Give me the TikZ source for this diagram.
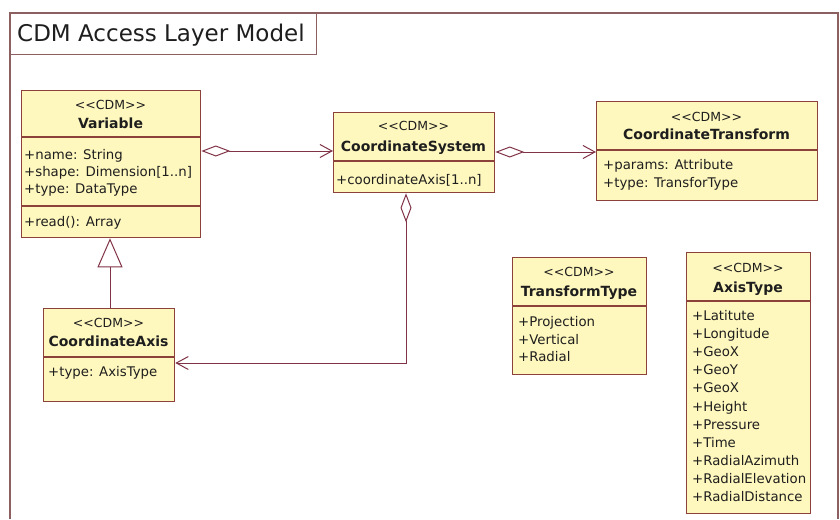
\documentclass[tikz,border=0pt]{standalone}
\usepackage{fontspec}
\setmainfont{DejaVu Sans}[Ligatures=TeXOff]
\usetikzlibrary{arrows.meta}
\definecolor{boxfill}{RGB}{255,248,190}
\definecolor{boxline}{RGB}{140,66,58}
\definecolor{frameline}{RGB}{140,96,96}
\definecolor{connline}{RGB}{128,50,70}
\definecolor{txtcol}{RGB}{30,30,30}
\tikzset{
  cls/.style={draw=boxline, fill=boxfill, line width=1.3pt, anchor=north west, inner sep=0pt},
  sepline/.style={draw=boxline, line width=1.3pt},
  lst/.style={inner sep=0pt, text=txtcol, font=\fontsize{13.3}{17}\selectfont, align=left, anchor=base west},
  ster/.style={inner sep=0pt, text=txtcol, font=\fontsize{12.5}{14}\selectfont, anchor=base},
  cname/.style={inner sep=0pt, text=txtcol, font=\fontsize{14}{16}\selectfont\bfseries, anchor=base},
  conn/.style={draw=connline, line width=1pt},
  agg/.style={conn, {Diamond[open,length=29pt,width=11pt]}-{Straight Barb[length=12pt,width=13pt]}},
  gen/.style={conn, -{Triangle[open,length=29pt,width=25pt]}},
}
\begin{document}
\begin{tikzpicture}[x=1pt,y=-1pt]
\useasboundingbox (0,0) rectangle (840,519);
% frame
\coordinate (fbl) at (10,519);
\coordinate (ftl) at (10,13);
\coordinate (ftr) at (838,13);
\coordinate (fbr) at (838,519);
\draw[frameline, line width=1.3pt] (fbl) -- (ftl) -- (ftr) -- (fbr);
\node[draw=frameline, line width=1.3pt, anchor=north west, minimum width=306pt, minimum height=41pt, inner sep=0pt] (titlebox) at (10,13) {};
\node[inner sep=0pt, text=txtcol, anchor=base west, font=\fontsize{23}{26}\selectfont] (title) at (17,42) {CDM Access Layer Model};

% Variable
\node[cls, minimum width=179pt, minimum height=147pt] (var) at (21,90) {};
\draw[sepline] (21,137) -- (200,137);
\draw[sepline] (21,206) -- (200,206);
\node[ster] (varS) at (110.5,109.5) {<<CDM>>};
\node[cname] (varN) at (110.5,128) {Variable};
\node[lst] (varA) at (24,193.5) {+name: String\\+shape: Dimension[1..n]\\+type: DataType};
\node[lst] (varO) at (24,226.5) {+read(): Array};

% CoordinateSystem
\node[cls, minimum width=161pt, minimum height=80pt] (cs) at (333,112) {};
\draw[sepline] (333,161) -- (494,161);
\node[ster] (csS) at (413.5,130.5) {<<CDM>>};
\node[cname] (csN) at (413.5,151) {CoordinateSystem};
\node[lst] (csA) at (336,184.5) {+coordinateAxis[1..n]};

% CoordinateTransform
\node[cls, minimum width=221pt, minimum height=99pt] (ct) at (596,101) {};
\draw[sepline] (596,150) -- (817,150);
\node[ster] (ctS) at (706.5,121.5) {<<CDM>>};
\node[cname] (ctN) at (706.5,139) {CoordinateTransform};
\node[lst, font=\fontsize{13.3}{18}\selectfont] (ctA) at (603,187.5) {+params: Attribute\\+type: TransforType};

% CoordinateAxis
\node[cls, minimum width=131pt, minimum height=93pt] (ca) at (43,308) {};
\draw[sepline] (43,357) -- (174,357);
\node[ster] (caS) at (108.5,327.5) {<<CDM>>};
\node[cname] (caN) at (108.5,346) {CoordinateAxis};
\node[lst] (caA) at (48,376.5) {+type: AxisType};

% TransformType
\node[cls, minimum width=134pt, minimum height=117pt] (tt) at (512,257) {};
\draw[sepline] (512,306) -- (646,306);
\node[ster] (ttS) at (579,276.5) {<<CDM>>};
\node[cname] (ttN) at (579,296) {TransformType};
\node[lst, font=\fontsize{13.3}{17.5}\selectfont] (ttA) at (518,361.5) {+Projection\\+Vertical\\+Radial};

% AxisType
\node[cls, minimum width=124pt, minimum height=261pt] (at) at (686,252) {};
\draw[sepline] (686,301) -- (810,301);
\node[ster] (atS) at (748,272.5) {<<CDM>>};
\node[cname] (atN) at (748,292) {AxisType};
\node[lst, font=\fontsize{13.3}{18.1}\selectfont] (atA) at (692,501.5) {+Latitute\\+Longitude\\+GeoX\\+GeoY\\+GeoX\\+Height\\+Pressure\\+Time\\+RadialAzimuth\\+RadialElevation\\+RadialDistance};

% connectors
\draw[agg] (var.east |- 0,151) -- (cs.west |- 0,151);
\draw[agg] (cs.east |- 0,152) -- (ct.west |- 0,152);
\coordinate (bend) at (406,363);
\draw[agg] (cs.south -| bend) -- (bend) -- (ca.east |- bend);
\coordinate (genx) at (110,0);
\draw[gen] (ca.north -| genx) -- (var.south -| genx);
\end{tikzpicture}
\end{document}
